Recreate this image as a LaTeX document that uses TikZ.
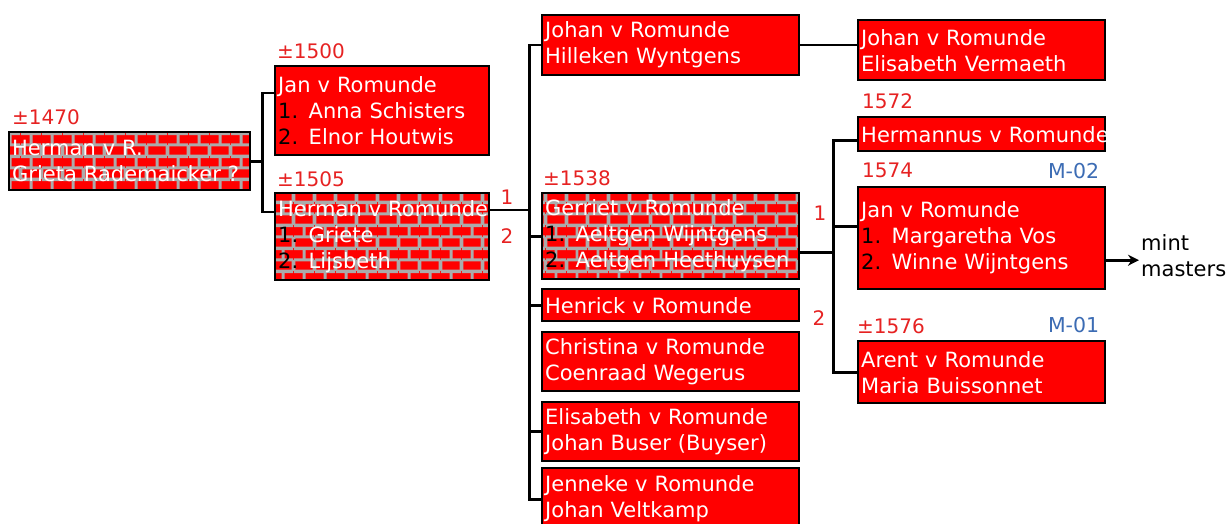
\documentclass[tikz,border=0pt]{standalone}
\usepackage{fontspec}
\setmainfont{DejaVu Sans}
\usepackage{tikz}
\usetikzlibrary{positioning,arrows.meta,patterns.meta}
\definecolor{brick}{HTML}{FF0000}
\definecolor{mortar}{HTML}{ABABAB}
\definecolor{yearred}{HTML}{E62222}
\definecolor{mintblue}{HTML}{3C6CB4}

\tikzdeclarepattern{
  name=brickwall, type=uncolored,
  bottom left={(0pt,0pt)}, top right={(21pt,23pt)}, tile size={(21pt,23pt)},
  code={
    \draw[line width=3pt] (0pt,0pt) -- (21pt,0pt);
    \draw[line width=3pt] (0pt,11.5pt) -- (21pt,11.5pt);
    \draw[line width=3pt] (0pt,23pt) -- (21pt,23pt);
    \draw[line width=3pt] (0pt,0pt) -- (0pt,11.5pt);
    \draw[line width=3pt] (21pt,0pt) -- (21pt,11.5pt);
    \draw[line width=3pt] (10.5pt,11.5pt) -- (10.5pt,23pt);
  }}

\tikzset{
  person/.style={draw=black, line width=2.4pt, fill=brick, text=white, anchor=north west,
    inner sep=3pt, align=left, font=\fontsize{21}{26}\selectfont},
  wall/.style={person, preaction={fill=brick}, pattern=brickwall, pattern color=mortar},
  yr/.style={text=yearred, font=\fontsize{20}{22}\selectfont, inner sep=0pt},
  mnum/.style={text=mintblue, font=\fontsize{20.5}{22}\selectfont, inner sep=0pt},
  link/.style={line width=2.6pt},
}
\newcommand{\nr}[1]{\textcolor{black}{#1}}

\begin{document}
\begin{tikzpicture}[x=1pt, y=-1pt]
  \useasboundingbox (0,0) rectangle (1228,524);
  % generations as columns
  \node[wall, text width=235pt, minimum height=58pt] (hermanR) at (8,131) {Herman v R.\\Grieta Rademaicker ?};
  \node[person, text width=208pt, minimum height=89pt] (janA) at (274,65) {Jan v Romunde\\\nr{1.} Anna Schisters\\\nr{2.} Elnor Houtwis};
  \node[wall, text width=208pt, minimum height=87pt] (hermanRom) at (274,192) {\mbox{Herman v Romunde}\\\nr{1.} Griete\\\nr{2.} Lijsbeth};
  \node[person, text width=251pt, minimum height=60pt] (johanH) at (541,14) {Johan v Romunde\\Hilleken Wyntgens};
  \node[wall, text width=251pt, minimum height=86pt] (gerriet) at (541,192) {Gerriet v Romunde\\\nr{1.} Aeltgen Wijntgens\\\nr{2.} \mbox{Aeltgen Heethuysen}};
  \node[person, text width=251pt, minimum height=32pt] (henrick) at (541,288) {Henrick v Romunde};
  \node[person, text width=251pt, minimum height=59pt] (christina) at (541,331) {Christina v Romunde\\Coenraad Wegerus};
  \node[person, text width=251pt, minimum height=59pt] (elisabeth) at (541,401) {Elisabeth v Romunde\\Johan Buser (Buyser)};
  \node[person, text width=251pt, minimum height=62pt] (jenneke) at (541,467) {Jenneke v Romunde\\Johan Veltkamp};
  \node[person, text width=241pt, minimum height=60pt] (johanE) at (857,19) {Johan v Romunde\\Elisabeth Vermaeth};
  \node[person, text width=241pt, minimum height=34pt] (hermannus) at (857,116) {\mbox{Hermannus v Romunde}};
  \node[person, text width=241pt, minimum height=102pt] (janB) at (857,186) {Jan v Romunde\\\nr{1.} Margaretha Vos\\\nr{2.} Winne Wijntgens};
  \node[person, text width=241pt, minimum height=62pt] (arent) at (857,340) {Arent v Romunde\\Maria Buissonnet};

  % years
  \node[yr, above right=6pt and 4pt of hermanR.north west] (yHermanR) {±1470};
  \node[yr, above right=6pt and 3pt of janA.north west] (yJanA) {±1500};
  \node[yr, above right=5pt and 3pt of hermanRom.north west] (yHermanRom) {±1505};
  \node[yr, above right=6pt and 2pt of gerriet.north west] (yGerriet) {±1538};
  \node[yr, above right=7pt and 5pt of hermannus.north west] (yHermannus) {1572};
  \node[yr, above right=8pt and 5pt of janB.north west] (yJanB) {1574};
  \node[yr, above right=6pt and 0pt of arent.north west] (yArent) {±1576};
  \node[mnum, above left=7pt and 7pt of janB.north east] (mJanB) {M-02};
  \node[mnum, above left=7pt and 7pt of arent.north east] (mArent) {M-01};

  % marriage numbers
  \node[yr] (m1a) at (507,197) {1};
  \node[yr] (m2a) at (507,236) {2};
  \node[yr] (m1b) at (820,213) {1};
  \node[yr] (m2b) at (819,318) {2};

  % lines
  \draw[link] (hermanR.east) -- ++(11,0) coordinate (g1);
  \draw[link] ([yshift=-28pt]janA.north west) -| (g1) |- ([yshift=-20pt]hermanRom.north west);
  \draw[link] ([yshift=-18pt]hermanRom.north east) -- ++(39,0) coordinate (g2);
  \draw[link] (johanH.west) -| (g2) |- (jenneke.west);
  \foreach \k in {gerriet,henrick,elisabeth}
    \draw[link] (\k.west) -- (\k.west -| g2);
  \draw[link] (johanH.east) -- (johanH.east -| johanE.west);
  \draw[link] ([yshift=-16pt]gerriet.east) -- ++(33,0) coordinate (g3);
  \draw[link] ([yshift=-6pt]hermannus.west) -| (g3) |- (arent.west);
  \draw[link] ([yshift=12pt]janB.west) -- ([yshift=12pt]janB.west -| g3);

  \node[align=left, anchor=west, inner sep=2pt, font=\fontsize{21}{26}\selectfont] (mint) at (1139,256) {mint\\masters};
  \draw[link, -{Stealth[length=11pt, width=11pt]}] ([yshift=-22pt]janB.east) -- ([yshift=-22pt]janB.east -| mint.west);
\end{tikzpicture}
\end{document}
